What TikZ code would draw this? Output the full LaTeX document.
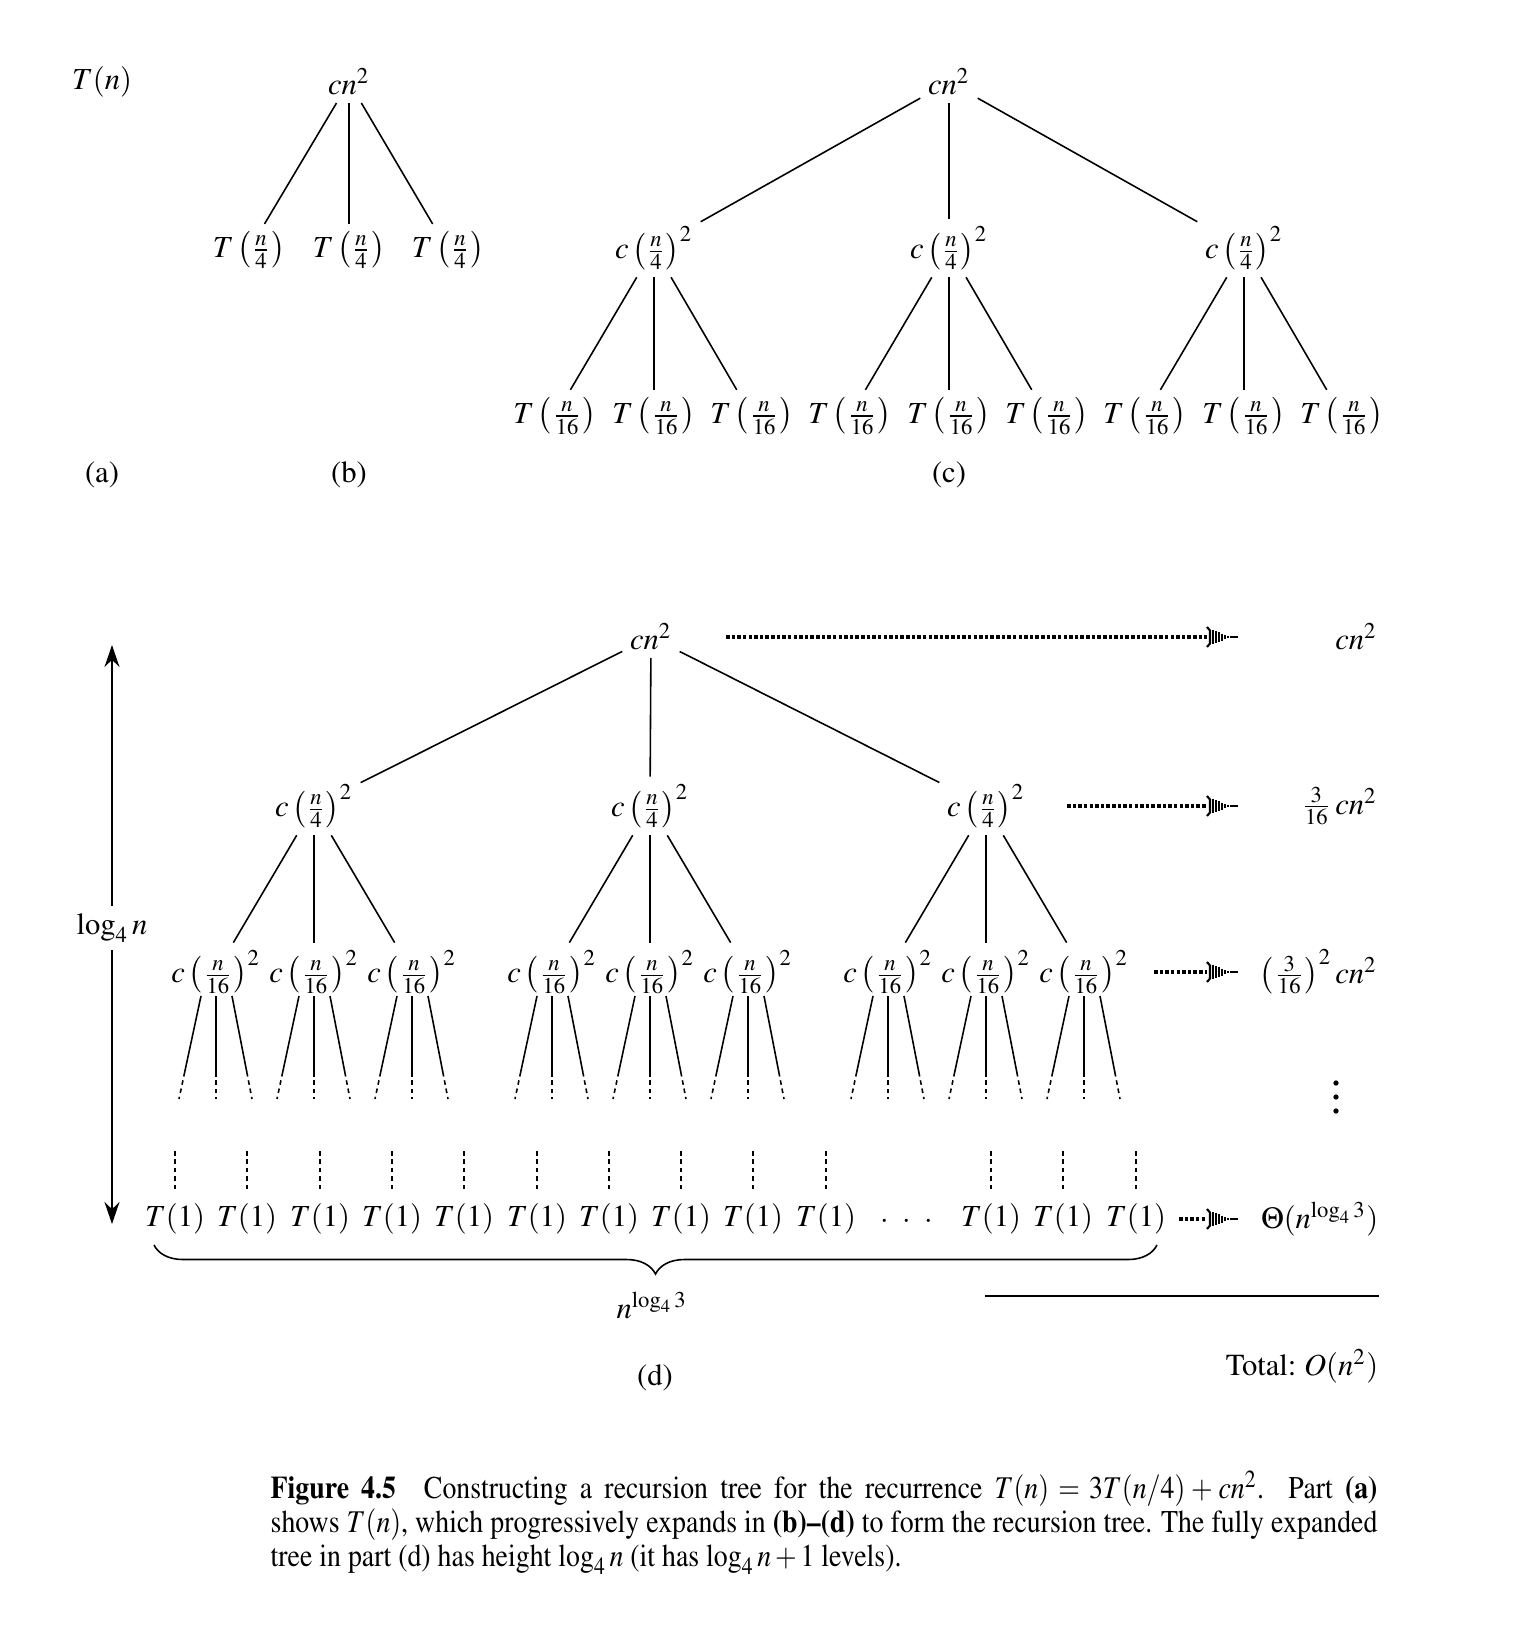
\documentclass[tikz,border=0pt]{standalone}
\usepackage[T1]{fontenc}
\usepackage{mathptmx}
\usepackage{graphicx}
\usetikzlibrary{arrows.meta,calc,decorations.pathreplacing}

\tikzset{
  lbl/.style={inner sep=2pt, font=\fontsize{8.7}{10}\selectfont},
  edge/.style={line width=0.45pt},
  stub/.style={line width=0.45pt, dash pattern=on 1.3pt off 1.1pt},
  dotline/.style={line width=1pt, dash pattern=on 1pt off 0.6pt},
}
% hatched arrow head at the end of a dotted row arrow
\newcommand{\hatchhead}[1]{%
  \draw[line width=0.6pt] ($(#1)+(-31,-10)$) -- ($(#1)+(-28,-6.5)$) -- ($(#1)+(-28,6.5)$) -- ($(#1)+(-31,10)$);
  \foreach \k in {1,...,6}
    \draw[line width=0.7pt] ($(#1)+({-28+3*\k},{-8.5+1.25*\k})$) -- ($(#1)+({-28+3*\k},{8.5-1.25*\k})$);}

\begin{document}
\begin{tikzpicture}[x=0.01cm, y=-0.01cm, every node/.style={lbl}]
\useasboundingbox (0,0) rectangle (1522,1644);

% (a)
\node (tn) at (102,82) {$T(n)$};
\node (la) at (102,475) {(a)};

% (b)
\node (broot) at (349,82) {$cn^2$};
\node (b1) at (249,250) {$T\left(\frac{n}{4}\right)$};
\node (b2) at (349,250) {$T\left(\frac{n}{4}\right)$};
\node (b3) at (448,250) {$T\left(\frac{n}{4}\right)$};
\draw[edge] (broot) -- (b1);
\draw[edge] (broot) -- (b2);
\draw[edge] (broot) -- (b3);
\node (lb) at (349,475) {(b)};

% (c)
\node (croot) at (949,82) {$cn^2$};
\node (c1) at (654,248) {$c\left(\frac{n}{4}\right)^2$};
\node (c2) at (949,248) {$c\left(\frac{n}{4}\right)^2$};
\node (c3) at (1244,248) {$c\left(\frac{n}{4}\right)^2$};
\draw[edge] (croot) -- (c1);
\draw[edge] (croot) -- (c2);
\draw[edge] (croot) -- (c3);
\foreach \i/\x in {1/654,2/949,3/1244}
  \foreach \j/\dx in {1/-99,2/0,3/98} {
    \node (c\i\j) at ({\x+\dx},416) {$T\left(\frac{n}{16}\right)$};
    \draw[edge] (c\i) -- (c\i\j);
  }
\node (lc) at (949,475) {(c)};

% (d)
\node (droot) at (651,637) {$cn^2$};
\node (d1) at (314,806) {$c\left(\frac{n}{4}\right)^2$};
\node (d2) at (650,806) {$c\left(\frac{n}{4}\right)^2$};
\node (d3) at (986,806) {$c\left(\frac{n}{4}\right)^2$};
\draw[edge] (droot) -- (d1);
\draw[edge] (droot) -- (d2);
\draw[edge] (droot) -- (d3);
\foreach \i/\x in {1/314,2/650,3/986}
  \foreach \j/\dx in {1/-98,2/0,3/98} {
    \node (d\i\j) at ({\x+\dx},972) {$c\left(\frac{n}{16}\right)^2$};
    \draw[edge] (d\i) -- (d\i\j);
    \foreach \a/\b in {-15/-37,0/0,16/36} {
      \draw[edge] ($(d\i\j)+(\a,24)$) -- ($(d\i\j)+({\a+0.74*(\b-\a)},100)$);
      \draw[stub] ($(d\i\j)+({\a+0.74*(\b-\a)},100)$) -- ($(d\i\j)+(\b,127)$);
    }
  }

% leaves
\foreach \k/\x in {1/175,2/247,3/320,4/392,5/464,6/537,7/609,8/681,9/753,10/826,11/991,12/1063,13/1136} {
  \node (l\k) at (\x,1219) {$T(1)$};
  \draw[stub] ($(l\k)+(0,-68)$) -- ($(l\k)+(0,-27)$);
}
\node (ldots) at (907,1222) {$\cdot\hspace{2.6pt}\cdot\hspace{2.6pt}\cdot$};

\coordinate (bl) at (154,1245);
\coordinate (br) at (1157,1245);
\draw[edge, decorate, decoration={brace, mirror, amplitude=0.29cm}] (bl) -- (br);
\node (nlog) at (652,1305) {$n^{\log_4 3}$};
\node (ld) at (655,1378) {(d)};

% height arrow
\coordinate (htop) at (112,645);
\coordinate (hbot) at (112,1224);
\node (hgt) at (112,928) {$\log_4 n$};
\draw[edge, -{Stealth[length=2.2mm,width=1.5mm]}] (hgt) -- (htop);
\draw[edge, -{Stealth[length=2.2mm,width=1.5mm]}] (hgt) -- (hbot);

% row sums
\node[anchor=east] (s0) at (1385,637) {$cn^2$};
\node[anchor=east] (s1) at (1385,806) {$\frac{3}{16}\,cn^2$};
\node[anchor=east] (s2) at (1385,972) {$\left(\frac{3}{16}\right)^2 cn^2$};
\fill (1336,1083) circle[radius=0.75pt];
\fill (1336,1097) circle[radius=0.75pt];
\fill (1336,1111) circle[radius=0.75pt];
\node[anchor=east] (s3) at (1386,1219) {$\Theta(n^{\log_4 3})$};

\coordinate (a0s) at (726,637);  \coordinate (a0e) at (1238,637);
\coordinate (a1s) at (1067,806); \coordinate (a1e) at (1238,806);
\coordinate (a2s) at (1154,972); \coordinate (a2e) at (1238,972);
\coordinate (a3s) at (1179,1219); \coordinate (a3e) at (1238,1219);
\draw[dotline] (a0s) -- ($(a0e)+(-31,0)$); \draw[edge] ($(a0e)+(-8,0)$) -- (a0e); \hatchhead{a0e}
\draw[dotline] (a1s) -- ($(a1e)+(-31,0)$); \draw[edge] ($(a1e)+(-8,0)$) -- (a1e); \hatchhead{a1e}
\draw[dotline] (a2s) -- ($(a2e)+(-31,0)$); \draw[edge] ($(a2e)+(-8,0)$) -- (a2e); \hatchhead{a2e}
\draw[dotline] (a3s) -- ($(a3e)+(-31,0)$); \draw[edge] ($(a3e)+(-8,0)$) -- (a3e); \hatchhead{a3e}

\coordinate (t1) at (985,1296);
\coordinate (t2) at (1379,1296);
\draw[edge] (t1) -- (t2);
\node[anchor=east] (total) at (1386,1366) {Total:~$O(n^2)$};

% caption
\node[anchor=north west, inner sep=0pt] (cap) at (270,1470) {\scalebox{0.88}[1]{\parbox{12.57cm}{\fontsize{9}{9.7}\selectfont
  \textbf{Figure 4.5}\quad Constructing a recursion tree for the recurrence $T(n) = 3T(n/4) + cn^2$. Part \textbf{(a)}\linebreak shows $T(n)$, which progressively expands in \textbf{(b)--(d)} to form the recursion tree. The fully expanded\linebreak tree in part (d) has height $\log_4 n$ (it has $\log_4 n + 1$ levels).}}};

\end{tikzpicture}
\end{document}
